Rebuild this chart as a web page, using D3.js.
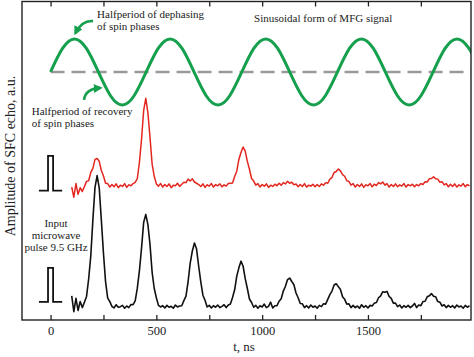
<!DOCTYPE html>
<html><head><meta charset="utf-8">
<script src="https://cdn.jsdelivr.net/npm/d3@7"></script>
<style>
body{margin:0;background:#fff}
svg{display:block}
</style>
</head><body><svg id="chart" width="474" height="357"></svg>
<script>
// ---- data (time in ns, amplitude in arbitrary units) ----
const sampleStartNs = 100;
const sampleStepNs = 10;
const blackEcho = [
7.6,2.6,6.8,3.0,5.8,3.9,5.6,7.4,12.9,20.1,
31.5,41.7,45.4,41.5,31.4,21.0,12.0,6.9,5.8,4.3,
3.8,4.8,4.0,4.2,4.6,3.7,4.4,3.9,4.9,4.8,
6.0,10.0,15.5,22.7,30.7,33.2,30.0,23.7,15.0,9.9,
7.0,4.6,4.1,4.5,3.8,4.6,4.0,4.3,3.7,4.7,
4.1,4.4,4.5,6.1,7.5,12.1,17.9,21.7,24.2,22.3,
16.9,12.0,7.8,6.2,4.1,4.6,3.8,4.5,4.0,4.7,
3.9,4.3,4.8,3.9,4.7,5.0,7.1,9.5,13.8,16.4,
18.5,16.9,13.0,9.9,6.6,5.5,4.0,4.6,3.7,4.5,
4.1,5.0,3.9,4.3,5.6,3.8,4.5,4.5,5.9,6.7,
9.1,10.6,12.7,13.2,12.1,11.1,8.5,7.0,5.2,5.1,
3.9,4.5,3.8,4.7,4.0,4.4,3.7,4.6,4.2,5.1,
5.0,6.5,8.0,9.1,11.0,11.4,10.5,9.6,7.3,6.5,
5.0,5.1,3.9,4.6,3.9,4.4,3.7,4.8,4.0,4.5,
3.8,4.6,4.4,5.3,5.5,7.0,7.6,8.9,8.7,9.0,
7.4,6.8,5.3,5.3,4.2,4.7,3.8,4.5,4.0,4.6,
3.9,4.4,5.2,3.9,4.7,4.5,5.8,5.9,7.3,7.6,
8.3,7.5,7.3,5.8,5.6,4.4,4.8,3.9,4.6,4.0,
4.5,3.8,4.7,4.1,4.4,3.7,4.6,4.0,4.5
];
const redEcho = [
41.8,38.6,42.9,39.5,41.6,40.4,42.0,43.6,43.8,46.4,
47.7,50.5,50.8,49.9,47.0,45.3,43.0,42.9,41.8,42.6,
41.9,42.8,41.6,42.4,42.0,42.9,41.7,42.5,42.2,42.9,
43.3,44.5,49.6,56.9,65.9,69.7,65.2,57.4,49.0,45.2,
42.8,42.1,42.9,41.8,42.6,42.0,42.8,41.6,42.4,42.2,
43.0,42.0,42.7,43.3,43.2,44.3,43.7,44.4,43.4,43.0,
42.6,42.0,42.8,41.7,42.5,42.1,42.9,41.8,42.6,42.2,
42.8,41.9,42.5,42.1,42.9,43.0,43.1,45.1,46.8,50.5,
52.7,54.4,53.1,49.9,47.4,44.5,43.7,42.4,42.9,41.8,
42.6,42.1,42.8,41.7,42.4,42.0,42.7,42.2,43.0,42.4,
43.2,42.8,43.6,43.0,43.3,42.5,42.8,41.9,42.6,42.0,
42.9,41.8,42.4,42.1,42.7,41.9,42.6,42.0,42.8,42.4,
43.2,43.0,44.3,44.8,46.4,46.7,47.5,46.9,45.7,45.2,
43.8,43.6,42.4,42.9,41.8,42.6,42.0,42.8,41.7,42.5,
42.2,42.9,41.9,42.7,42.3,43.2,42.8,43.4,42.4,42.9,
41.8,42.6,42.0,42.8,41.9,42.5,42.1,42.9,41.8,42.6,
42.2,42.7,41.9,42.6,42.2,42.9,42.6,43.5,43.4,44.4,
44.5,45.0,44.4,44.3,43.3,43.5,42.5,42.9,41.9,42.7,
42.0,42.8,41.8,42.5,42.1,42.9,41.9,42.6,42.2
];
const mfgTimes = [0,56.5,113,169.5,226,282.5,339,395.5,452,508.5,565,621.5,678,734.5,791,847.5,904,960.5,1017,1073.5,1130,1186.5,1243,1299.5,1356,1412.5,1469,1525.5,1582,1638.5,1695,1751.5,1808,1864.5,1921,1977.5,2034];
const mfgValues = [78.0,85.4,88.4,85.4,78.0,70.6,67.6,70.6,78.0,85.4,88.4,85.4,78.0,70.6,67.6,70.6,78.0,85.4,88.4,85.4,78.0,70.6,67.6,70.6,78.0,85.4,88.4,85.4,78.0,70.6,67.6,70.6,78.0,85.4,88.4,85.4,78.0];
const mfgZeroLevel = 78.0;
const pulseTimes = [-55,-12,-12,12,12,55];
const pulseLevelsUpper = [40.7,40.7,51.6,51.6,40.7,40.7];
const pulseLevelsLower = [5.7,5.7,16.4,16.4,5.7,5.7];
const xTickValues = [0,250,500,750,1000,1250,1500,1750];
const xTickLabels = ["0","500","1000","1500"];
const xAxisTitle = "t, ns";
const yAxisTitle = "Amplitude of SFC echo, a.u.";
const notes = [
  {text:"Halfperiod of dephasing", t:220, v:95.0, anchor:"start"},
  {text:"of spin phases", t:220, v:91.3, anchor:"start"},
  {text:"Halfperiod of recovery", t:-89, v:64.5, anchor:"start"},
  {text:"of spin phases", t:-89, v:60.7, anchor:"start"},
  {text:"Sinusoidal form of MFG signal", t:962, v:93.7, anchor:"start"},
  {text:"Input", t:26, v:29.2, anchor:"middle"},
  {text:"microwave", t:26, v:25.5, anchor:"middle"},
  {text:"pulse 9.5 GHz", t:26, v:21.7, anchor:"middle"}
];
const arrows = [
  {from:[200.8,94.0], ctrl:[148.8,94.3], to:[118.1,90.3]},
  {from:[158.3,69.2], ctrl:[163.0,72.6], to:[233.9,73.0]}
];

// ---- layout ----
const W = 474, H = 357;
const mLeft = 22, mRight = 471, mTop = 1.5, mBottom = 320;
const green = "#16a04e";
const serif = "'Liberation Serif', 'Times New Roman', serif";

const svg = d3.select("#chart");
svg.append("rect").attr("width",W).attr("height",H).attr("fill","#fff");

const x = d3.scaleLinear().domain([-135, 1987]).range([mLeft, mRight]);
const y = d3.scaleLinear().domain([0, 100]).range([mBottom, mBottom - 318]);

const defs = svg.append("defs");
defs.append("clipPath").attr("id","plotClip")
  .append("rect").attr("x",mLeft).attr("y",mTop).attr("width",mRight-mLeft).attr("height",mBottom-mTop);
defs.append("marker").attr("id","arrowHead")
  .attr("viewBox","0 0 10 10").attr("refX",7).attr("refY",5)
  .attr("markerWidth",9).attr("markerHeight",9).attr("markerUnits","userSpaceOnUse")
  .attr("orient","auto")
  .append("path").attr("d","M0,0 L10,5 L0,10 z").attr("fill",green);

const plot = svg.append("g").attr("clip-path","url(#plotClip)");

// dashed zero level of MFG
plot.append("line")
  .attr("x1", x(0)).attr("x2", x(1987))
  .attr("y1", y(mfgZeroLevel)).attr("y2", y(mfgZeroLevel))
  .attr("stroke","#9a9a9a").attr("stroke-width",2.4).attr("stroke-dasharray","14,7");

// MFG sine
const mfgData = mfgTimes.map((t,i)=>[t, mfgValues[i]]);
plot.append("path").datum(mfgData)
  .attr("fill","none").attr("stroke",green).attr("stroke-width",3)
  .attr("d", d3.line().x(d=>x(d[0])).y(d=>y(d[1])).curve(d3.curveNatural));

// echo traces
const traceLine = d3.line().x((d,i)=>x(sampleStartNs + i*sampleStepNs)).y(d=>y(d));
plot.append("path").datum(redEcho)
  .attr("fill","none").attr("stroke","#e3261e").attr("stroke-width",1.5).attr("stroke-linejoin","round")
  .attr("d", traceLine);
plot.append("path").datum(blackEcho)
  .attr("fill","none").attr("stroke","#111").attr("stroke-width",1.6).attr("stroke-linejoin","round")
  .attr("d", traceLine);

// input pulse icons
const pulseLine = levels => d3.line().x((d,i)=>x(pulseTimes[i])).y(d=>y(d))(levels);
[pulseLevelsUpper, pulseLevelsLower].forEach(lv=>{
  plot.append("path").attr("d", pulseLine(lv))
    .attr("fill","none").attr("stroke","#111").attr("stroke-width",1.8);
});

// arrows
arrows.forEach(a=>{
  const p = d3.path();
  p.moveTo(x(a.from[0]), y(a.from[1]));
  p.quadraticCurveTo(x(a.ctrl[0]), y(a.ctrl[1]), x(a.to[0]), y(a.to[1]));
  svg.append("path").attr("d", p.toString())
    .attr("fill","none").attr("stroke",green).attr("stroke-width",2.6)
    .attr("marker-end","url(#arrowHead)");
});

// annotation texts
svg.append("g").selectAll("text").data(notes).join("text")
  .attr("x", d=>x(d.t)).attr("y", d=>y(d.v))
  .attr("text-anchor", d=>d.anchor)
  .attr("font-family", serif)
  .attr("font-size", 11)
  .attr("fill", "#222")
  .text(d=>d.text);

// frame
svg.append("rect").attr("x",mLeft).attr("y",mTop).attr("width",mRight-mLeft).attr("height",mBottom-mTop)
  .attr("fill","none").attr("stroke","#222").attr("stroke-width",1.4);

// axes
const xb = svg.append("g").attr("transform",`translate(0,${mBottom})`)
  .call(d3.axisBottom(x).tickValues(xTickValues).tickSizeInner(-5).tickSizeOuter(0).tickPadding(6)
    .tickFormat(d => xTickLabels.includes(String(d)) ? String(d) : ""));
const xt = svg.append("g").attr("transform",`translate(0,${mTop})`)
  .call(d3.axisTop(x).tickValues(xTickValues).tickSizeInner(-5).tickSizeOuter(0).tickFormat(""));
[xb, xt].forEach(g=>{
  g.attr("font-family", serif);
  g.select(".domain").remove();
  g.selectAll(".tick line").attr("stroke","#222").attr("stroke-width",1.3);
});
xb.selectAll(".tick text").attr("font-size",12.5).attr("font-family",serif).attr("fill","#222");

svg.append("text").attr("x", 244).attr("y", 351).attr("text-anchor","middle")
  .attr("font-family", serif).attr("fill","#222")
  .attr("font-size",13).text(xAxisTitle);
svg.append("text").attr("transform","translate(15,156) rotate(-90)")
  .attr("font-family", serif).attr("fill","#222")
  .attr("text-anchor","middle").attr("font-size",14).text(yAxisTitle);
</script>
</body></html>
